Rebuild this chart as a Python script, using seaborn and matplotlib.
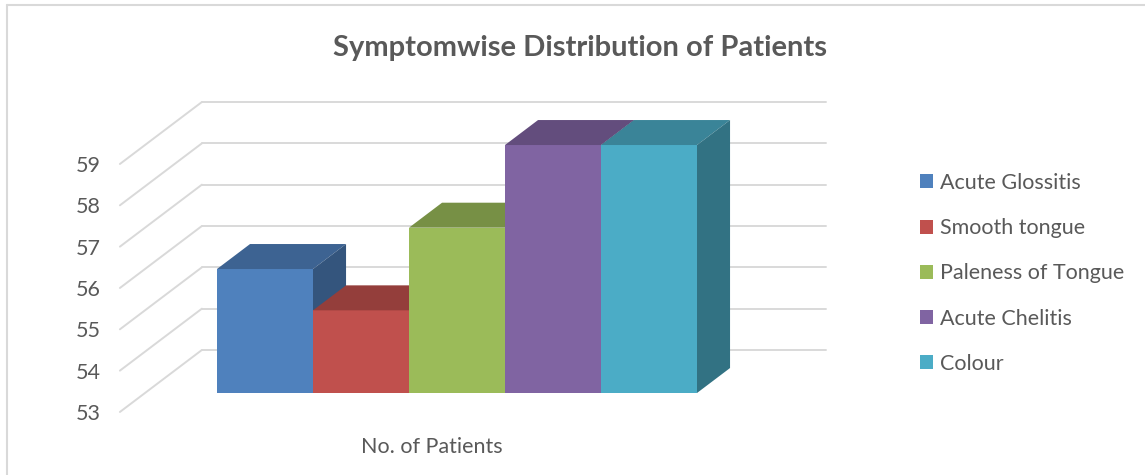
import numpy as np
import pandas as pd
import matplotlib
matplotlib.use("Agg")
import matplotlib.pyplot as plt
import matplotlib.colors as mcolors
from matplotlib.patches import Polygon
from matplotlib.lines import Line2D
import seaborn as sns

# ---- data ----
group = ["No. of Patients"]
symptoms = ["Acute Glossitis", "Smooth tongue", "Paleness of Tongue", "Acute Chelitis", "Colour"]
patients = [56, 55, 57, 59, 59]
y_ticks = [53, 54, 55, 56, 57, 58, 59]

colors = ["#4F81BD", "#C0504D", "#9BBB59", "#8064A2", "#4BACC6"]
TEXT = "#595959"
GRID = "#d9d9d9"
FS = 15.5

sns.set_style("white")
plt.rcParams["font.family"] = ["Lato", "DejaVu Sans"]

W, H, DPI = 1145, 475, 100
fig = plt.figure(figsize=(W / DPI, H / DPI), dpi=DPI)

# axes box in pixels (left, right, top, bottom)
AX_L, AX_R, AX_T, AX_B = 115, 860, 90, 420
ax = fig.add_axes([AX_L / W, 1 - AX_B / H, (AX_R - AX_L) / W, (AX_B - AX_T) / H])

df = pd.DataFrame({"group": group * len(symptoms), "symptom": symptoms, "patients": patients})
sns.barplot(data=df, x="group", y="patients", hue="symptom", palette=colors,
            saturation=1, width=0.8, linewidth=0, ax=ax)

# scale of the front plane of the bars
PX_X, PX_Y = 600.0, 41.33
X0_PX, BASE_PX = 457, 393
base = y_ticks[0]
ax.set_xlim((AX_L - X0_PX) / PX_X, (AX_R - X0_PX) / PX_X)
ax.set_ylim(base - (AX_B - BASE_PX) / PX_Y, base + (BASE_PX - AX_T) / PX_Y)

# oblique depth of the 3d box, data units
depth = np.array([82 / PX_X, 62 / PX_Y])
front = -0.306 * depth
back = 0.694 * depth
bar_d = 0.403 * depth
wall_l, wall_r = -0.52, 0.52

# walls: back gridlines + left side lines
for v in y_ticks:
    ax.plot([wall_l + back[0], wall_r + back[0]], [v + back[1]] * 2,
            color=GRID, lw=1.4, zorder=1, clip_on=False)
    ax.plot([wall_l + front[0], wall_l + back[0]], [v + front[1], v + back[1]],
            color=GRID, lw=1.4, zorder=1, clip_on=False)


def shade(c, f):
    r, g, b = mcolors.to_rgb(c)
    return (r * f, g * f, b * f)


# 3d bars: front from seaborn, top + right side added
for i, cont in enumerate(ax.containers):
    for bar in cont:
        top = bar.get_height()
        bar.set_y(base)
        bar.set_height(top - base)
        bar.set_zorder(10 + 3 * i)
        x, w = bar.get_x(), bar.get_width()
        fc = bar.get_facecolor()
        top_face = [(x, top), (x + w, top), (x + w + bar_d[0], top + bar_d[1]), (x + bar_d[0], top + bar_d[1])]
        side_face = [(x + w, base), (x + w + bar_d[0], base + bar_d[1]),
                     (x + w + bar_d[0], top + bar_d[1]), (x + w, top)]
        ax.add_patch(Polygon(top_face, closed=True, fc=shade(fc, 0.77), ec="none", zorder=11 + 3 * i))
        ax.add_patch(Polygon(side_face, closed=True, fc=shade(fc, 0.66), ec="none", zorder=12 + 3 * i))

ax.set_yticks([v + front[1] for v in y_ticks], [str(v) for v in y_ticks])
ax.set_xticks([front[0]], group)
ax.tick_params(length=0, colors=TEXT, labelsize=FS)
ax.tick_params(axis="y", pad=10.5)
ax.tick_params(axis="x", pad=12)
ax.set_xlabel("")
ax.set_ylabel("")
sns.despine(ax=ax, left=True, bottom=True)

# legend
leg = ax.get_legend()
handles = leg.legend_handles
labels = [t.get_text() for t in leg.get_texts()]
leg.remove()
fig.legend(handles, labels, loc="upper left", bbox_to_anchor=(920 / W, 1 - 173 / H),
           frameon=False, fontsize=FS, labelcolor=TEXT, handlelength=0.62, handleheight=0.62,
           handletextpad=0.3, labelspacing=1.17, borderpad=0, borderaxespad=0)

fig.text(580 / W, 1 - 56 / H, "Symptomwise Distribution of Patients", ha="center", va="baseline",
         fontsize=21, fontweight="bold", color=TEXT)

# chart border (only left and top visible in the crop)
fig.add_artist(Line2D([7 / W, 7 / W], [0, 1 - 5 / H], color=GRID, lw=1.5))
fig.add_artist(Line2D([7 / W, 1], [1 - 5 / H, 1 - 5 / H], color=GRID, lw=1.5))

fig.savefig("out.png", dpi=DPI)
